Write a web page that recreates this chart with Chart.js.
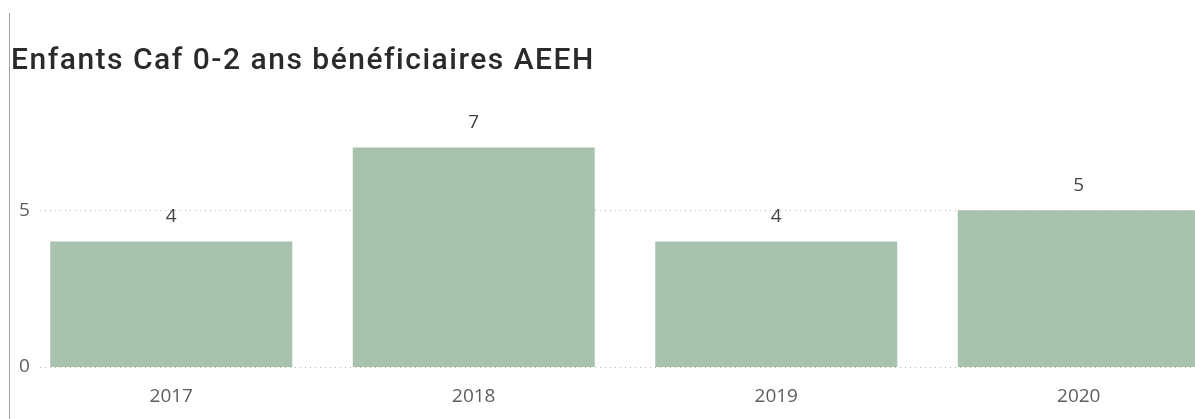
<!DOCTYPE html>
<html lang="fr">
<head>
<meta charset="utf-8">
<script src="https://cdn.jsdelivr.net/npm/chart.js@4"></script>
<style>
    html, body { margin: 0; padding: 0; background: #fff; overflow: hidden; }
    #frame {
        position: absolute;
        left: 9px;
        top: 13px;
        width: 1186px;
        height: 406px;
        border-left: 1px solid #a0a0a0;
        overflow: hidden;
    }
    #wrap {
        position: absolute;
        left: 0;
        top: -13px;
        width: 1220px;
        height: 419px;
    }
    #title {
        position: absolute;
        left: 11px;
        top: 41px;
        margin: 0;
        font-family: 'Roboto', 'DejaVu Sans', sans-serif;
        font-size: 30px;
        font-weight: 500;
        letter-spacing: 1.5px;
        line-height: 36px;
        color: #2a2a2a;
        white-space: nowrap;
        z-index: 2;
    }
</style>
</head>
<body>
<h1 id="title">Enfants Caf 0-2 ans bénéficiaires AEEH</h1>
<div id="frame">
    <div id="wrap"><canvas id="chart"></canvas></div>
</div>
<script>
// Enfants Caf 0-2 ans bénéficiaires AEEH, par année
const years = ['2017', '2018', '2019', '2020'];
const beneficiaires = [4, 7, 4, 5];
const yTicks = [0, 5];

const barColor = '#a8c2ae';
const labelFont = "'Open Sans', 'Noto Sans', sans-serif";

// Value labels above each bar
const valueLabels = {
    id: 'valueLabels',
    afterDatasetsDraw(chart) {
        const ctx = chart.ctx;
        const meta = chart.getDatasetMeta(0);
        ctx.save();
        ctx.font = `19px ${labelFont}`;
        ctx.fillStyle = '#444';
        ctx.textAlign = 'center';
        ctx.textBaseline = 'middle';
        meta.data.forEach((bar, i) => {
            ctx.fillText(String(beneficiaires[i]), bar.x, bar.y - 25);
        });
        ctx.restore();
    }
};

// Dotted horizontal gridlines, drawn behind the bars
const dottedGrid = {
    id: 'dottedGrid',
    beforeDatasetsDraw(chart) {
        const ctx = chart.ctx;
        const y = chart.scales.y;
        const area = chart.chartArea;
        ctx.save();
        ctx.strokeStyle = '#b8b8b8';
        ctx.lineWidth = 1;
        ctx.setLineDash([1, 4]);
        yTicks.forEach(v => {
            const py = Math.round(y.getPixelForValue(v)) + 0.5;
            ctx.beginPath();
            ctx.moveTo(area.left + 20, py);
            ctx.lineTo(area.right, py);
            ctx.stroke();
        });
        ctx.restore();
    }
};

new Chart(document.getElementById('chart'), {
    type: 'bar',
    data: {
        labels: years,
        datasets: [{
            data: beneficiaires,
            backgroundColor: barColor,
            borderWidth: 0,
            barPercentage: 0.8,
            categoryPercentage: 1
        }]
    },
    options: {
        responsive: true,
        maintainAspectRatio: false,
        animation: false,
        layout: { padding: { left: 10, right: 0, top: 116, bottom: 12 } },
        plugins: {
            legend: { display: false },
            tooltip: { enabled: false },
            title: { display: false }
        },
        scales: {
            x: {
                grid: { display: false },
                border: { display: false },
                ticks: {
                    color: '#605e5c',
                    font: { family: labelFont, size: 19 },
                    padding: 10
                },
                afterFit(scale) { scale.height = 40; }
            },
            y: {
                min: 0,
                max: 8,
                border: { display: false },
                grid: { display: false, drawTicks: false },
                ticks: {
                    mirror: true,
                    padding: -1,
                    color: '#605e5c',
                    font: { family: labelFont, size: 19 },
                    callback: (v) => yTicks.includes(v) ? String(v) : null
                },
                afterBuildTicks(scale) {
                    scale.ticks = yTicks.map(v => ({ value: v }));
                },
                afterFit(scale) { scale.width = 0; }
            }
        }
    },
    plugins: [valueLabels, dottedGrid]
});
</script>
</body>
</html>
